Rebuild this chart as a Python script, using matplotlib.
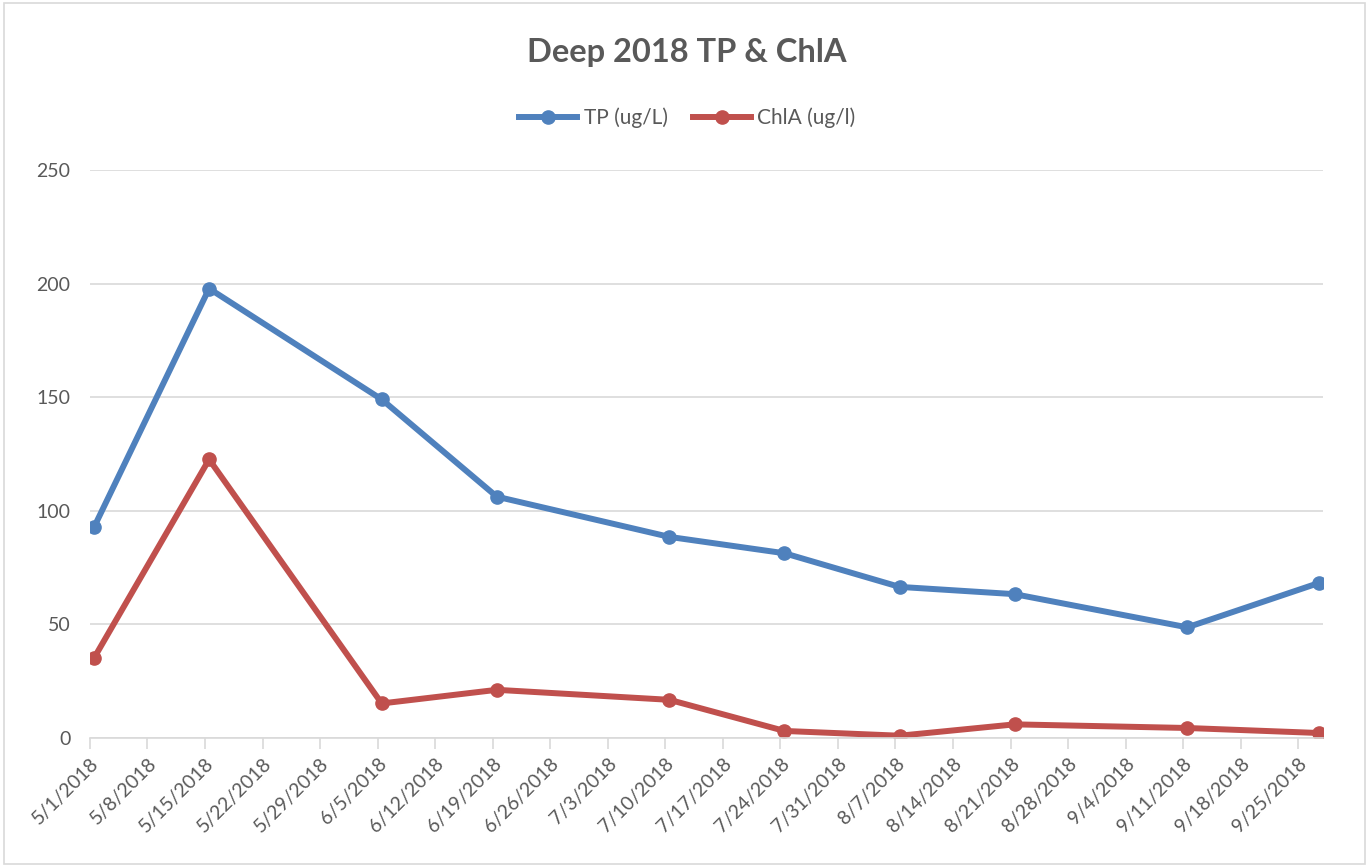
import pandas as pd
import matplotlib
matplotlib.use("Agg")
import matplotlib.pyplot as plt

plt.rcParams['font.family'] = ['Lato', 'DejaVu Sans']

sample_dates = ['2018-05-01', '2018-05-15', '2018-06-05', '2018-06-19', '2018-07-10',
                '2018-07-24', '2018-08-07', '2018-08-21', '2018-09-11', '2018-09-27']
tp_values = [92.8, 197.8, 149.0, 106.2, 88.5, 81.3, 66.5, 63.3, 48.7, 68.2]
chla_values = [35.2, 122.6, 15.2, 21.2, 16.8, 3.1, 1.0, 6.0, 4.4, 2.2]
tick_dates = pd.date_range('2018-05-01', '2018-09-25', freq='7D')

grey = '#595959'
blue = '#4F81BD'
red = '#C0504D'

# excel puts each point in the middle of its day
x = pd.to_datetime(sample_dates) + pd.Timedelta(hours=12)

fig = plt.figure(figsize=(13.69, 8.67), dpi=100)
ax = fig.add_axes([0.0657, 0.1488, 0.9006, 0.6552])

ax.plot(x, tp_values, color=blue, lw=4.3, marker='o', ms=9.5, label='TP (ug/L)')
ax.plot(x, chla_values, color=red, lw=4.3, marker='o', ms=9.5, label='ChlA (ug/l)')

ax.set_ylim(0, 250)
ax.set_yticks(range(0, 251, 50))
ax.set_xlim(tick_dates[0], pd.Timestamp('2018-09-28'))
ax.set_xticks(tick_dates)
ax.set_xticklabels([f'{d.month}/{d.day}/{d.year}' for d in tick_dates],
                   rotation=45, ha='right', rotation_mode='anchor')

ax.grid(axis='y', color='#D9D9D9', lw=1.2)
ax.set_axisbelow(True)
for s in ['top', 'right', 'left']:
    ax.spines[s].set_visible(False)
ax.spines['bottom'].set_color('#D9D9D9')
ax.spines['bottom'].set_linewidth(1.2)
ax.tick_params(axis='y', length=0, pad=14, labelsize=14, labelcolor=grey)
ax.tick_params(axis='x', length=8, width=1.2, color='#D9D9D9', direction='out',
               pad=4, labelsize=14, labelcolor=grey)

fig.text(0.502, 0.939, 'Deep 2018 TP & ChlA', ha='center', va='center',
         fontsize=23.5, fontweight='bold', color=grey)
fig.legend(loc='center', bbox_to_anchor=(0.502, 0.864), ncol=2, frameon=False,
           fontsize=15, labelcolor=grey, handlelength=2.8, columnspacing=1.2,
           handletextpad=0.3)

# thin frame around the chart, like the excel chart area
fig.patches.append(plt.Rectangle((0.003, 0.003), 0.994, 0.994, transform=fig.transFigure,
                                 fill=False, edgecolor='#D9D9D9', lw=1.2))

fig.savefig('out.png', dpi=100)
